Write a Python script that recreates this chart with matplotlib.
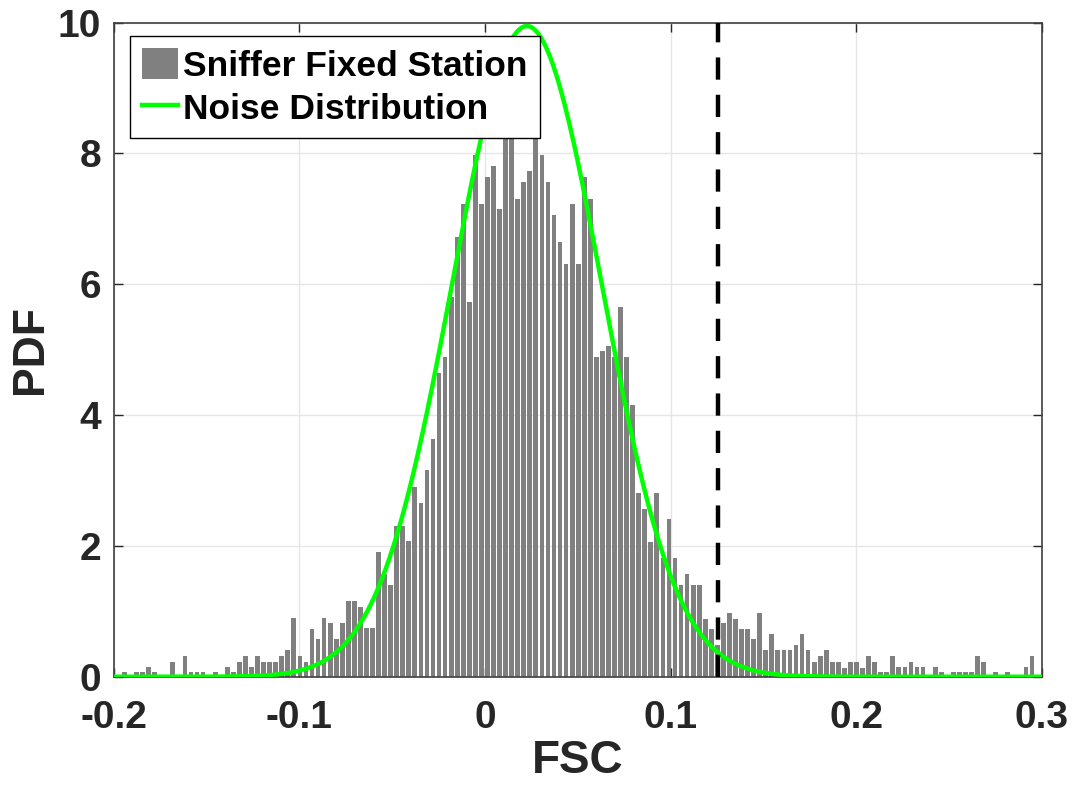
import numpy as np
import matplotlib
matplotlib.use('Agg')
import matplotlib.pyplot as plt
from matplotlib.patches import Patch
from matplotlib.lines import Line2D

# histogram of FSC values (pdf normalised), heights
bin_start = -0.199
bin_width = 0.003258
pdf_heights = [
    0.00, 0.07, 0.00, 0.07, 0.07, 0.15, 0.07, 0.00, 0.00, 0.23,
    0.00, 0.31, 0.07, 0.07, 0.07, 0.00, 0.07, 0.00, 0.15, 0.07,
    0.23, 0.31, 0.15, 0.31, 0.23, 0.23, 0.23, 0.31, 0.41, 0.90,
    0.31, 0.23, 0.73, 0.58, 0.90, 0.82, 0.58, 0.82, 1.16, 1.16,
    1.07, 0.74, 0.74, 1.90, 1.57, 1.40, 2.31, 2.31, 2.07, 2.90,
    2.65, 3.16, 3.64, 4.65, 4.89, 5.80, 6.73, 7.23, 5.73, 7.98,
    7.23, 7.64, 7.81, 7.15, 8.30, 8.30, 7.31, 7.56, 7.73, 8.31,
    7.98, 7.56, 7.06, 6.65, 6.31, 7.23, 6.31, 7.64, 7.31, 4.89,
    4.98, 5.06, 4.89, 5.65, 4.89, 4.15, 2.81, 2.57, 2.06, 2.81,
    1.81, 2.41, 1.81, 1.40, 1.57, 1.40, 1.40, 0.89, 0.73, 0.48,
    0.82, 0.98, 0.89, 0.73, 0.73, 0.57, 0.98, 0.41, 0.65, 0.41,
    0.41, 0.41, 0.48, 0.65, 0.41, 0.23, 0.31, 0.41, 0.23, 0.23,
    0.14, 0.23, 0.23, 0.14, 0.31, 0.23, 0.08, 0.08, 0.31, 0.15,
    0.15, 0.23, 0.15, 0.15, 0.00, 0.15, 0.08, 0.00, 0.08, 0.08,
    0.08, 0.08, 0.31, 0.23, 0.00, 0.08, 0.00, 0.08, 0.00, 0.00,
    0.15, 0.31,
]

# gaussian noise model and detection threshold
noise_mu = 0.0226
noise_sigma = 0.0401
threshold = 0.1256

xticks = [-0.2, -0.1, 0, 0.1, 0.2, 0.3]
xticklabels = ['-0.2', '-0.1', '0', '0.1', '0.2', '0.3']
yticks = [0, 2, 4, 6, 8, 10]
yticklabels = ['0', '2', '4', '6', '8', '10']

plt.rcParams['font.family'] = ['Liberation Sans', 'DejaVu Sans']
plt.rcParams['font.weight'] = 'bold'

fig = plt.figure(figsize=(10.76, 7.87), dpi=100)
ax = fig.add_axes([0.1055, 0.1401, 0.8629, 0.8311])

heights = np.array(pdf_heights)
centers = bin_start + (np.arange(len(heights)) + 0.5) * bin_width
ax.bar(centers, heights, width=bin_width * 0.78, color='#808080', zorder=2)

xs = np.linspace(-0.2, 0.3, 1000)
noise = np.exp(-0.5 * ((xs - noise_mu) / noise_sigma) ** 2) / (noise_sigma * np.sqrt(2 * np.pi))
ax.plot(xs, noise, color='#00ff00', lw=3.2, zorder=3)

ax.axvline(threshold, color='black', lw=3.2, ls=(0, (5.0, 3.4)), zorder=4)

ax.set_xlim(-0.2, 0.3)
ax.set_ylim(0, 10)
ax.set_xticks(xticks)
ax.set_xticklabels(xticklabels)
ax.set_yticks(yticks)
ax.set_yticklabels(yticklabels)
ax.tick_params(direction='in', length=6.5, width=1, top=True, right=True,
               labelsize=28, colors='#262626')
ax.tick_params(axis='x', pad=17)
ax.tick_params(axis='y', pad=9)
for lab in ax.get_xticklabels() + ax.get_yticklabels():
    lab.set_fontweight('bold')
    lab.set_color('#262626')

ax.grid(True, color='#e6e6e6', lw=1, zorder=0)
ax.set_axisbelow(True)
for sp in ax.spines.values():
    sp.set_color('#404040')
    sp.set_linewidth(1.2)

ax.set_xlabel('FSC', fontsize=33, fontweight='bold', color='#262626', labelpad=2)
ax.set_ylabel('PDF', fontsize=32, fontweight='bold', color='#262626', labelpad=5)

handles = [Patch(facecolor='#808080', edgecolor='none'),
           Line2D([0], [0], color='#00ff00', lw=3.2)]
leg = ax.legend(handles, ['Sniffer Fixed Station', 'Noise Distribution'],
                loc='upper left', bbox_to_anchor=(0.0178, 0.9797), borderaxespad=0,
                frameon=True, fancybox=False, framealpha=1,
                edgecolor='black', handlelength=1.0, handleheight=0.95,
                handletextpad=0.15, borderpad=0.35, labelspacing=0.25,
                prop={'weight': 'bold', 'size': 25.5})
leg.get_frame().set_linewidth(1)
leg.set_zorder(5)

fig.savefig('out.png', dpi=100)
